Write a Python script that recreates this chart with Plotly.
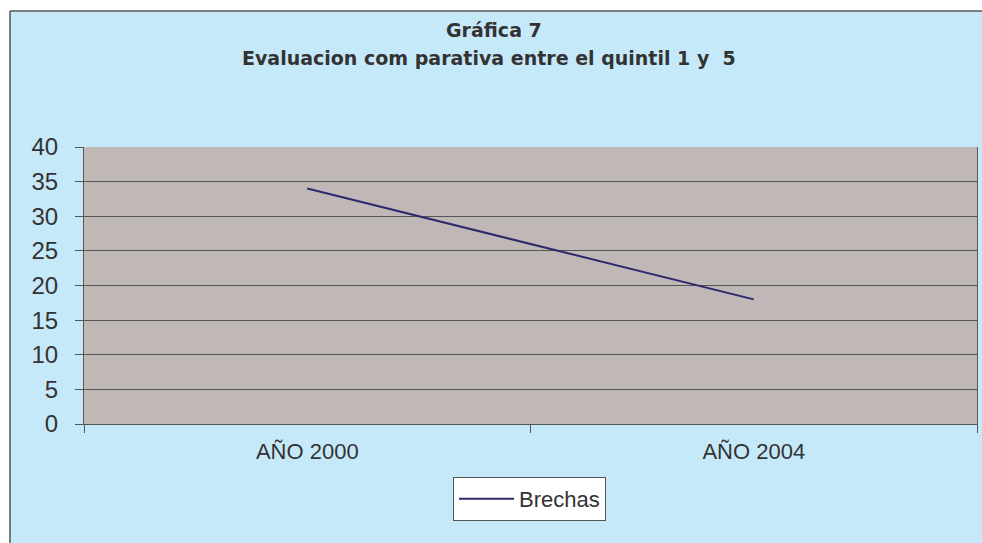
import plotly.graph_objects as go

categories = ["AÑO 2000", "AÑO 2004"]
brechas = [34, 18]
series_name = "Brechas"
title_line1 = "Gráfica 7"
title_line2 = "Evaluacion com parativa entre el quintil 1 y  5"

W, H = 982, 543
L, R, T, B = 84, 5, 147, 119
PW, PH = W - L - R, H - T - B


def px(x):
    return (x - L) / PW


def py(y):
    return (H - B - y) / PH


BG = "#C6E9F9"
PLOTBG = "#C0B8B6"
GRID = "#555555"
TXT = "#333333"
FONT = "Liberation Sans"
TFONT = "DejaVu Sans"

fig = go.Figure()
fig.add_trace(go.Scatter(
    x=categories, y=brechas, mode="lines", name=series_name,
    line=dict(color="#2C2A6C", width=2),
))

fig.update_layout(
    width=W, height=H,
    margin=dict(l=L, r=R, t=T, b=B, pad=0),
    paper_bgcolor=BG, plot_bgcolor=PLOTBG,
    font=dict(family=FONT, color=TXT),
    showlegend=True,
    legend=dict(
        x=px(529.5), y=py(477), xanchor="center", yanchor="top",
        bgcolor="white", bordercolor="#555555", borderwidth=1,
        itemwidth=55,
        font=dict(size=22, color=TXT, family=FONT),
    ),
    xaxis=dict(
        type="category", range=[-0.5, 1.5], tickson="boundaries",
        ticks="outside", ticklen=8, tickcolor=GRID, showgrid=False,
        showline=True, linecolor=GRID, linewidth=1,
        tickfont=dict(size=22, color=TXT, family=FONT),
        ticklabelstandoff=8,
    ),
    yaxis=dict(
        range=[0, 40], dtick=5, tick0=0, ticks="outside", ticklen=8,
        tickcolor=GRID, showgrid=True, gridcolor=GRID, gridwidth=1,
        zeroline=False, showline=True, linecolor=GRID, linewidth=1,
        mirror=True,
        tickfont=dict(size=24, color=TXT, family=FONT),
        ticklabelstandoff=12,
    ),
    annotations=[
        dict(text="<b>%s</b>" % title_line1, x=px(494), y=py(30),
             xref="paper", yref="paper", xanchor="center", yanchor="middle",
             showarrow=False, font=dict(size=19, color=TXT, family=TFONT)),
        dict(text="<b>%s</b>" % title_line2, x=px(489), y=py(58),
             xref="paper", yref="paper", xanchor="center", yanchor="middle",
             showarrow=False, font=dict(size=19, color=TXT, family=TFONT)),
    ],
    shapes=[
        dict(type="rect", xref="paper", yref="paper", x0=px(-2), x1=px(W + 2),
             y0=py(-2), y1=py(11), fillcolor="white", line=dict(width=0), layer="above"),
        dict(type="rect", xref="paper", yref="paper", x0=px(-2), x1=px(10),
             y0=py(-2), y1=py(H + 2), fillcolor="white", line=dict(width=0), layer="above"),
        dict(type="line", xref="paper", yref="paper", x0=px(10), x1=px(W + 2),
             y0=py(11), y1=py(11), line=dict(color="#555555", width=1.5), layer="above"),
        dict(type="line", xref="paper", yref="paper", x0=px(10), x1=px(10),
             y0=py(11), y1=py(H + 2), line=dict(color="#555555", width=1.5), layer="above"),
    ],
)

fig.write_html(
    "out.html",
    config={"displayModeBar": False},
    post_script="document.body.style.margin='0';document.body.style.overflow='hidden';"
                "document.documentElement.style.overflow='hidden';",
)
